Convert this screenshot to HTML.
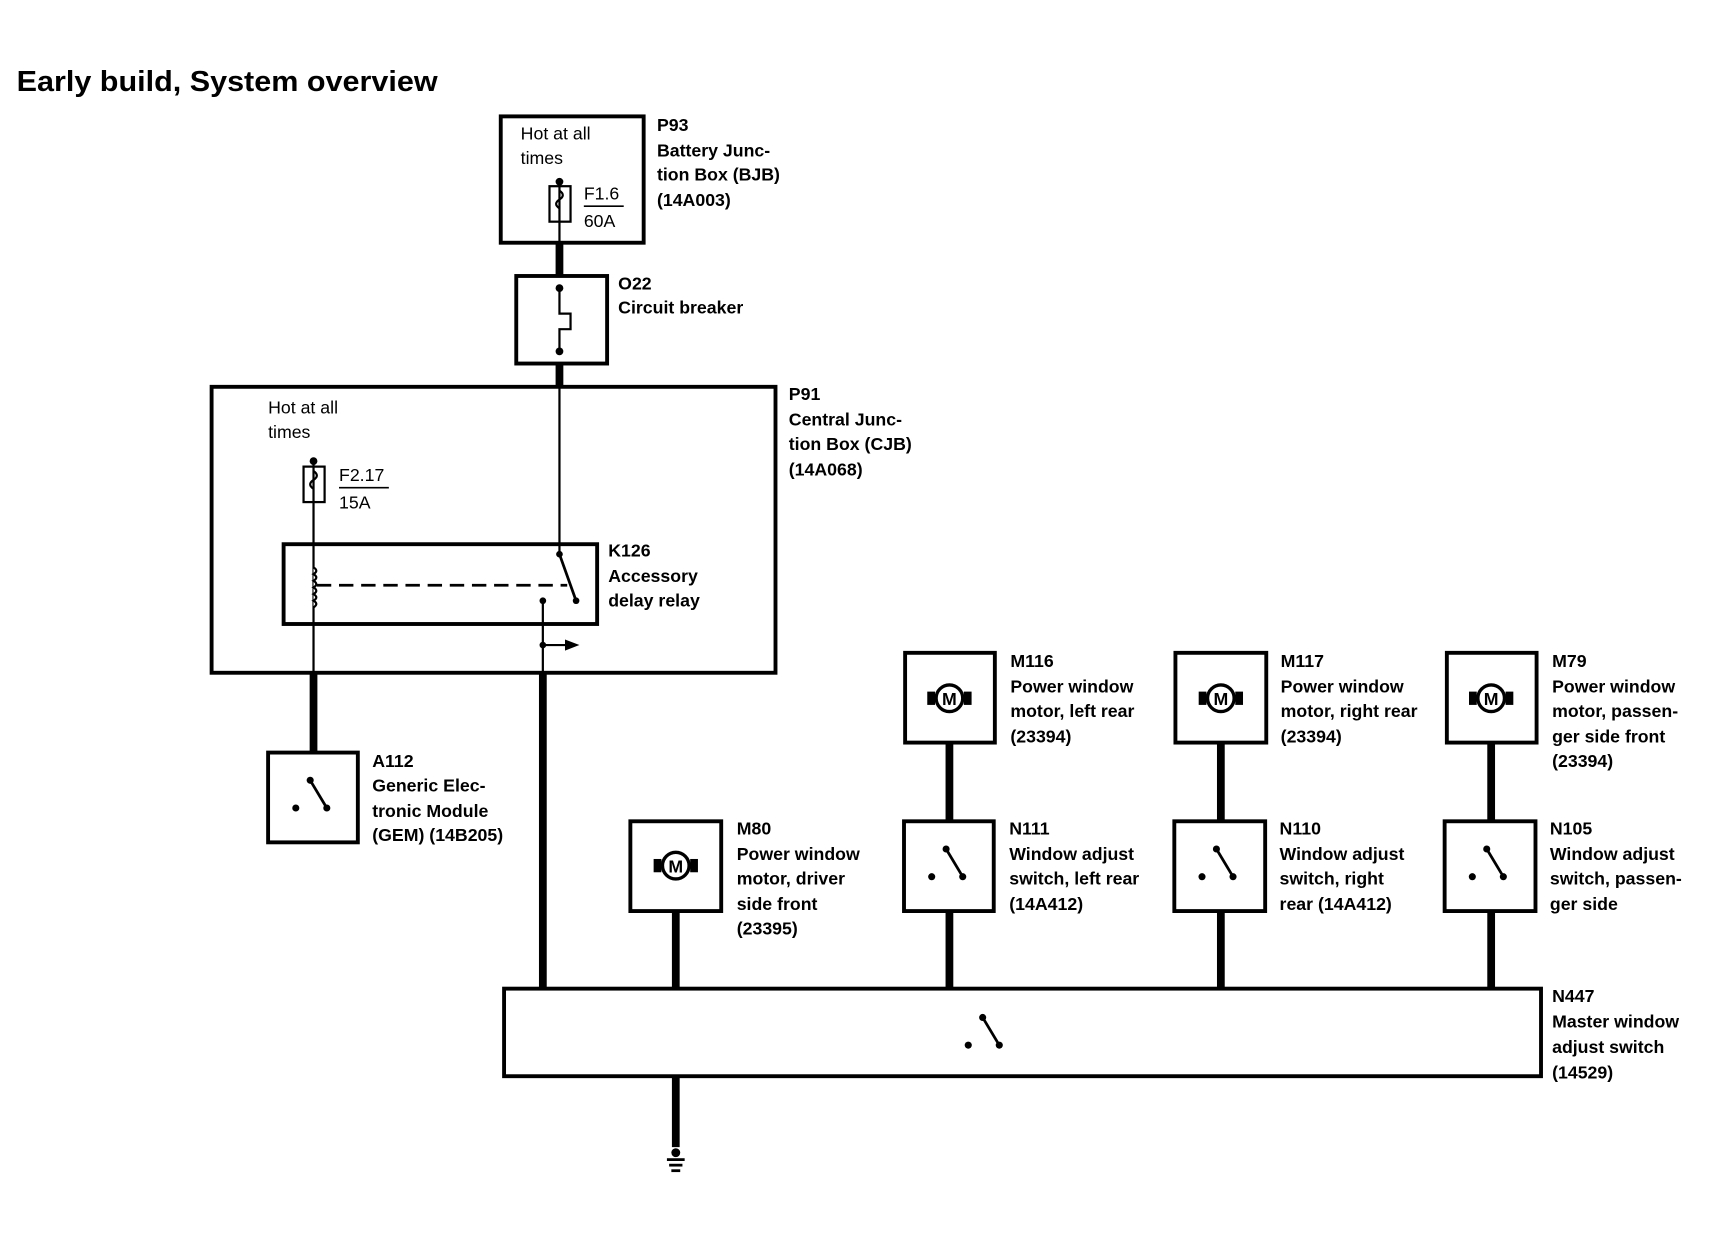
<!DOCTYPE html>
<html><head><meta charset="utf-8"><style>
html,body{margin:0;padding:0;background:#fff;}
svg{display:block;}
text{font-family:"Liberation Sans",Arial,sans-serif;fill:#000;}
.b{font-weight:bold;font-size:16px;}
.r{font-size:16px;}
</style></head><body>
<svg width="1736" height="1248" viewBox="0 0 1567 1126" preserveAspectRatio="none" xmlns="http://www.w3.org/2000/svg">
<defs>
<g id="motor">
<circle cx="0" cy="0" r="12" fill="#fff" stroke="#000" stroke-width="3"/>
<rect x="-20" y="-6" width="7" height="12" fill="#000"/>
<rect x="13" y="-6" width="7" height="12" fill="#000"/>
<text x="0" y="6" text-anchor="middle" font-weight="bold" font-size="16">M</text>
</g>
<g id="sw">
<circle cx="-16" cy="10" r="3.2" fill="#000"/>
<line x1="-3" y1="-15" x2="12" y2="10" stroke="#000" stroke-width="2.5"/>
<circle cx="-3" cy="-15" r="3.2" fill="#000"/>
<circle cx="12" cy="10" r="3.2" fill="#000"/>
</g>
</defs>
<text x="15" y="82" font-weight="bold" font-size="26" textLength="380" lengthAdjust="spacingAndGlyphs">Early build, System overview</text>

<g fill="none" stroke="#000">
<rect x="452" y="105" width="129" height="114" stroke-width="3.5"/>
<rect x="496" y="168" width="19" height="32" stroke-width="2"/>
<line x1="505" y1="164" x2="505" y2="219" stroke-width="2"/>
<path d="M505 172 q6 4 0 8 q-6 4 0 8" stroke-width="2"/>
<line x1="527" y1="186" x2="563" y2="186" stroke-width="1.5"/>
<line x1="505" y1="219" x2="505" y2="248" stroke-width="7"/>
<rect x="466" y="249" width="82" height="79" stroke-width="3.5"/>
<path d="M505 260 V283 H515 V297 H505 V317" stroke-width="2"/>
<line x1="505" y1="328" x2="505" y2="348" stroke-width="7"/>
<rect x="191" y="349" width="509" height="258" stroke-width="3.5"/>
<rect x="274" y="421" width="19" height="32" stroke-width="2"/>
<path d="M283 425 q6 4 0 8 q-6 4 0 8" stroke-width="2"/>
<line x1="306" y1="440" x2="351" y2="440" stroke-width="1.5"/>
<line x1="283" y1="416" x2="283" y2="607" stroke-width="2"/>
<line x1="505" y1="348" x2="505" y2="500" stroke-width="2"/>
<rect x="256" y="491" width="283" height="72" stroke-width="3.5"/>
<path d="M283 512 q5 3 0 6 q5 3 0 6 q5 3 0 6 q5 3 0 6 q5 3 0 6 q5 3 0 6" stroke-width="2" fill="#fff"/>
<line x1="286" y1="528" x2="512" y2="528" stroke-width="2.5" stroke-dasharray="13,7"/>
<line x1="505" y1="500" x2="520" y2="542" stroke-width="2.5"/>
<line x1="490" y1="542" x2="490" y2="607" stroke-width="2"/>
<line x1="490" y1="582" x2="512" y2="582" stroke-width="2"/>
<line x1="283" y1="607" x2="283" y2="678" stroke-width="7"/>
<line x1="490" y1="607" x2="490" y2="892" stroke-width="7"/>
<rect x="242" y="679" width="81" height="81" stroke-width="3.5"/>
<rect x="455" y="892" width="936" height="79" stroke-width="3.5"/>
<line x1="610" y1="971" x2="610" y2="1035" stroke-width="7"/>
<line x1="610" y1="822" x2="610" y2="892" stroke-width="7"/>
<line x1="857" y1="670" x2="857" y2="741" stroke-width="7"/>
<line x1="857" y1="822" x2="857" y2="892" stroke-width="7"/>
<line x1="1102" y1="670" x2="1102" y2="741" stroke-width="7"/>
<line x1="1102" y1="822" x2="1102" y2="892" stroke-width="7"/>
<line x1="1346" y1="670" x2="1346" y2="741" stroke-width="7"/>
<line x1="1346" y1="822" x2="1346" y2="892" stroke-width="7"/>
<rect x="569" y="741" width="82" height="81" stroke-width="3.5"/>
<rect x="817" y="589" width="81" height="81" stroke-width="3.5"/>
<rect x="816" y="741" width="81" height="81" stroke-width="3.5"/>
<rect x="1061" y="589" width="82" height="81" stroke-width="3.5"/>
<rect x="1060" y="741" width="82" height="81" stroke-width="3.5"/>
<rect x="1306" y="589" width="81" height="81" stroke-width="3.5"/>
<rect x="1304" y="741" width="82" height="81" stroke-width="3.5"/>
</g>
<g fill="#000">
<circle cx="505" cy="164" r="3.5"/>
<circle cx="505" cy="260" r="3.5"/>
<circle cx="505" cy="317" r="3.5"/>
<circle cx="283" cy="416" r="3.5"/>
<circle cx="505" cy="500" r="3"/>
<circle cx="520" cy="542" r="3"/>
<circle cx="490" cy="542" r="3"/>
<circle cx="490" cy="582" r="3"/>
<path d="M510 577 L523 582 L510 587 Z"/>
<circle cx="610" cy="1040" r="4"/>
<rect x="602" y="1045" width="16" height="2.5"/>
<rect x="604" y="1050" width="12" height="2.5"/>
<rect x="606" y="1055" width="8" height="2.5"/>
</g>
<use href="#sw" x="283" y="719"/>
<use href="#sw" x="890" y="933"/>
<use href="#sw" x="857" y="781"/>
<use href="#sw" x="1101" y="781"/>
<use href="#sw" x="1345" y="781"/>
<use href="#motor" x="610" y="781"/>
<use href="#motor" x="857" y="630"/>
<use href="#motor" x="1102" y="630"/>
<use href="#motor" x="1346" y="630"/>

<text class="r" x="470" y="126">Hot at all</text>
<text class="r" x="470" y="148">times</text>
<text class="r" x="527" y="180">F1.6</text>
<text class="r" x="527" y="205">60A</text>
<text class="r" x="242" y="373">Hot at all</text>
<text class="r" x="242" y="395">times</text>
<text class="r" x="306" y="434">F2.17</text>
<text class="r" x="306" y="459">15A</text>

<g class="b">
<text x="593" y="118">P93</text><text x="593" y="141">Battery Junc-</text><text x="593" y="163">tion Box (BJB)</text><text x="593" y="186">(14A003)</text>
<text x="558" y="261">O22</text><text x="558" y="283">Circuit breaker</text>
<text x="712" y="361">P91</text><text x="712" y="384">Central Junc-</text><text x="712" y="406">tion Box (CJB)</text><text x="712" y="429">(14A068)</text>
<text x="549" y="502">K126</text><text x="549" y="525">Accessory</text><text x="549" y="547">delay relay</text>
<text x="336" y="692">A112</text><text x="336" y="714">Generic Elec-</text><text x="336" y="737">tronic Module</text><text x="336" y="759">(GEM) (14B205)</text>
<text x="665" y="753">M80</text><text x="665" y="776">Power window</text><text x="665" y="798">motor, driver</text><text x="665" y="821">side front</text><text x="665" y="843">(23395)</text>
<text x="912" y="602">M116</text><text x="912" y="625">Power window</text><text x="912" y="647">motor, left rear</text><text x="912" y="670">(23394)</text>
<text x="1156" y="602">M117</text><text x="1156" y="625">Power window</text><text x="1156" y="647">motor, right rear</text><text x="1156" y="670">(23394)</text>
<text x="1401" y="602">M79</text><text x="1401" y="625">Power window</text><text x="1401" y="647">motor, passen-</text><text x="1401" y="670">ger side front</text><text x="1401" y="692">(23394)</text>
<text x="911" y="753">N111</text><text x="911" y="776">Window adjust</text><text x="911" y="798">switch, left rear</text><text x="911" y="821">(14A412)</text>
<text x="1155" y="753">N110</text><text x="1155" y="776">Window adjust</text><text x="1155" y="798">switch, right</text><text x="1155" y="821">rear (14A412)</text>
<text x="1399" y="753">N105</text><text x="1399" y="776">Window adjust</text><text x="1399" y="798">switch, passen-</text><text x="1399" y="821">ger side</text>
<text x="1401" y="904">N447</text><text x="1401" y="927">Master window</text><text x="1401" y="950">adjust switch</text><text x="1401" y="973">(14529)</text>
</g>
</svg>
</body></html>
